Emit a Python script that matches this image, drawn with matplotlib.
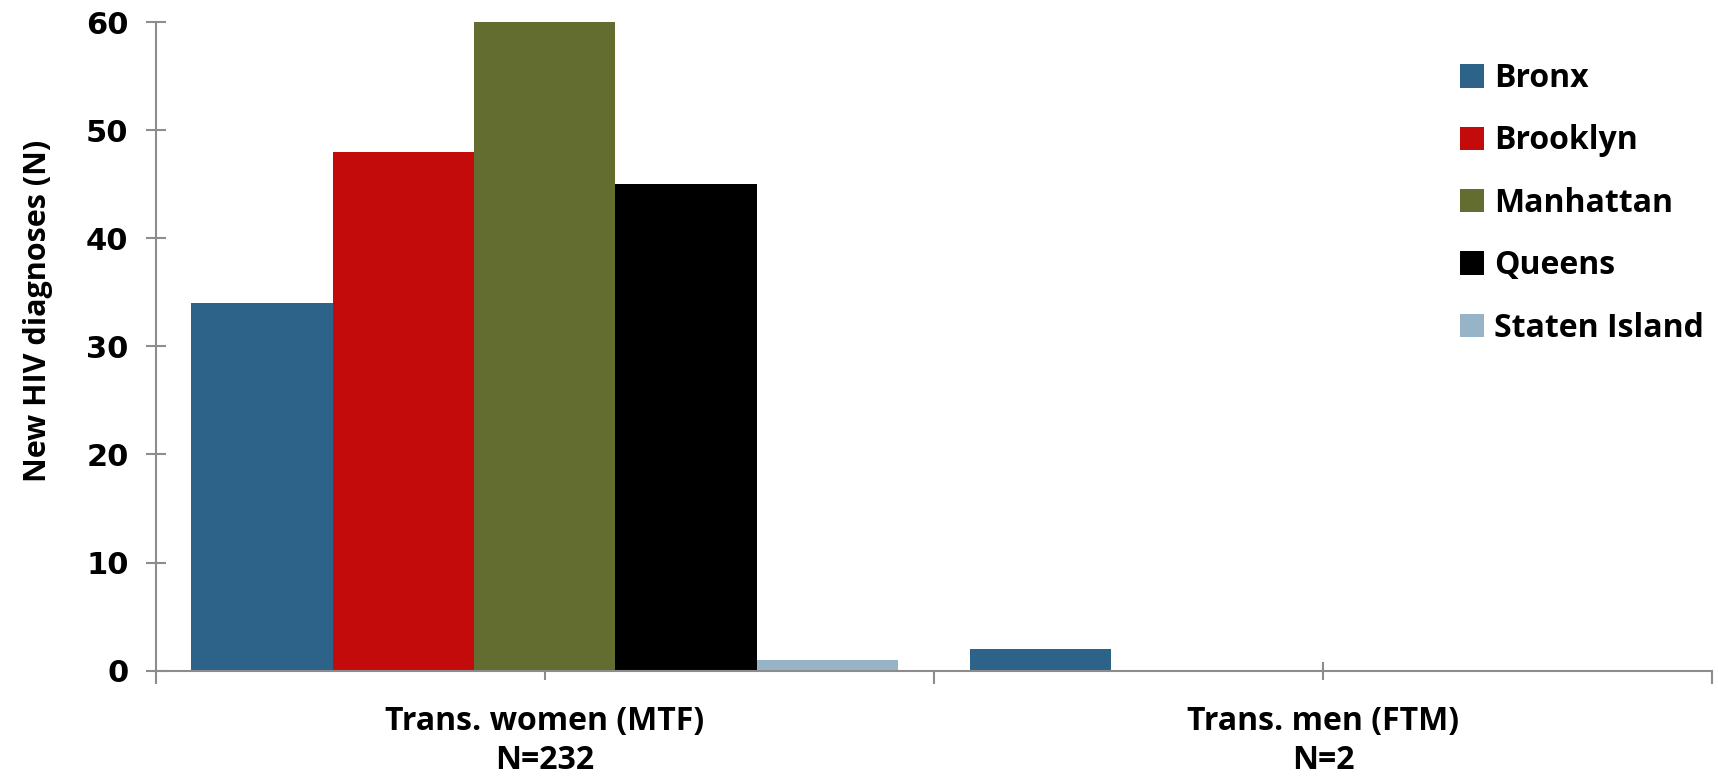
import matplotlib.pyplot as plt
import numpy as np

categories = ["Trans. women (MTF)\nN=232", "Trans. men (FTM)\nN=2"]
boroughs = ["Bronx", "Brooklyn", "Manhattan", "Queens", "Staten Island"]
values = {
    "Bronx": [34, 2],
    "Brooklyn": [48, 0],
    "Manhattan": [60, 0],
    "Queens": [45, 0],
    "Staten Island": [1, 0],
}
colors = ["#2E6389", "#C30B0B", "#636D2F", "#000000", "#97B3C8"]

txt_font = ["Open Sans", "DejaVu Sans"]

fig = plt.figure(figsize=(17.18, 7.76), dpi=100)
ax = fig.add_axes([0.0906, 0.1358, 0.9059, 0.8358])

x = np.arange(len(categories))
group = 0.908
w = group / len(boroughs)
for i, b in enumerate(boroughs):
    offs = -group / 2 + w * (i + 0.5)
    ax.bar(x + offs, values[b], width=w, color=colors[i], label=b,
           edgecolor="none", zorder=2)

ax.set_xlim(-0.5, 1.5)
ax.set_ylim(0, 60)
ax.set_yticks(range(0, 61, 10))

for s in ["top", "right"]:
    ax.spines[s].set_visible(False)
for s in ["left", "bottom"]:
    ax.spines[s].set_color("#8C8C8C")
    ax.spines[s].set_linewidth(1.5)
    ax.spines[s].set_zorder(3)

ax.tick_params(axis="y", direction="inout", length=15, width=1.5,
               color="#8C8C8C", pad=12, labelsize=22)
for lab in ax.get_yticklabels():
    lab.set_fontweight("bold")
    lab.set_family("DejaVu Sans")

# category boundaries as major ticks, labels on minor ticks at centres
ax.set_xticks([-0.5, 0.5, 1.5])
ax.set_xticklabels([])
ax.tick_params(axis="x", which="major", direction="out", length=9,
               width=1.5, color="#8C8C8C")
ax.set_xticks(x, minor=True)
ax.set_xticklabels(categories, minor=True, fontsize=23, fontweight="bold",
                   family=txt_font, linespacing=1.25)
ax.tick_params(axis="x", which="minor", direction="inout", length=13,
               width=1.5, color="#8C8C8C", pad=18)

ax.set_ylabel("New HIV diagnoses (N)", fontsize=22, fontweight="bold",
              family=txt_font)
ax.yaxis.set_label_coords(-0.066, 0.554)

leg = ax.legend(loc="upper right", bbox_to_anchor=(1.003, 0.958), frameon=False,
                prop={"family": txt_font, "weight": "bold", "size": 23},
                handlelength=0.75, handleheight=0.75, handletextpad=0.3,
                labelspacing=0.92, borderaxespad=0)

fig.savefig("out.png", dpi=100)
